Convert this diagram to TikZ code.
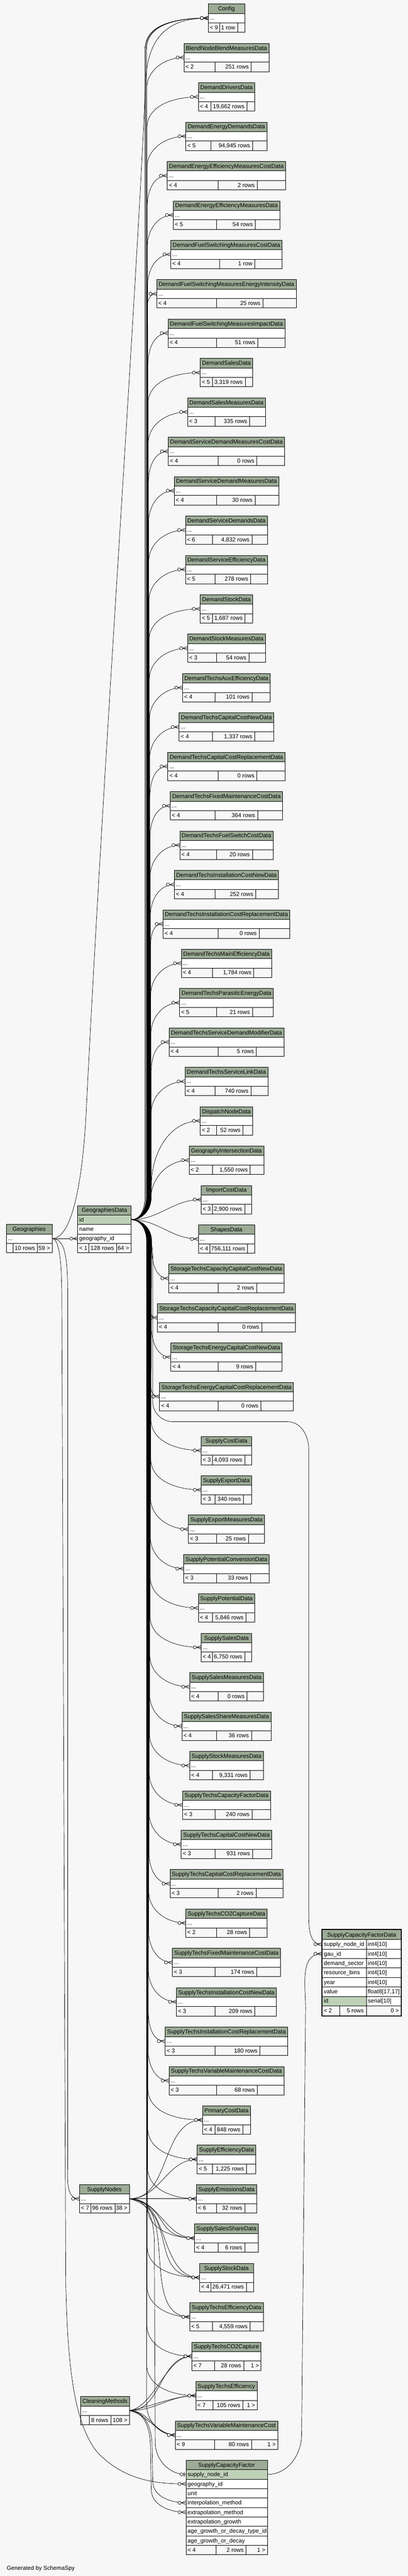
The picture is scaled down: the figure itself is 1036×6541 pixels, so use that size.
\documentclass[tikz,border=0pt]{standalone}
\usepackage{fontspec}
\setmainfont{Liberation Sans}
\usepackage{xcolor}
\definecolor{HeadCol}{RGB}{155,171,150}
\definecolor{KeyCol}{RGB}{190,209,184}
\definecolor{FootCol}{RGB}{247,247,247}
\definecolor{BackCol}{RGB}{247,247,247}
\usepackage{tikz}
\usetikzlibrary{calc}
\newcommand{\TabFont}{\fontsize{14.7}{17}\selectfont}
\tikzstyle{Edge}=[draw=black,line width=0.9pt]
\tikzstyle{TabLine}=[draw=black,line width=0.8pt]
\tikzstyle{TabText}=[inner sep=0pt,font=\TabFont]
\tikzset{crowfoot/.pic={\draw[Edge] (-12,0) -- (0,4.5) (-12,0) -- (0,-4.5);
    \draw[Edge,fill=BackCol] (-16,0) circle (4pt);},
  zeroone/.pic={\draw[Edge] (-4,5) -- (-4,-5);
    \draw[Edge,fill=BackCol] (-11,0) circle (4pt);}}
\newlength{\TabWa}\newlength{\TabWb}\newlength{\TabWc}
\newlength{\TabW}\newlength{\TabH}\newlength{\TabE}\newlength{\TabTmp}
\newcommand{\TabMeasure}[2]{%
  \pgfinterruptpicture\settowidth{\TabTmp}{\TabFont #2}\global#1=\TabTmp\endpgfinterruptpicture}
\newcommand{\DataTable}[6]{%
  \TabMeasure{\TabH}{#1}\addtolength{\TabH}{10pt}%
  \TabMeasure{\TabWa}{#4}\addtolength{\TabWa}{8pt}%
  \ifdim\TabWa<18pt \setlength{\TabWa}{18pt}\fi
  \TabMeasure{\TabWb}{#5}\addtolength{\TabWb}{10pt}%
  \TabMeasure{\TabWc}{#6}\addtolength{\TabWc}{8pt}%
  \ifdim\TabWc<18pt \setlength{\TabWc}{18pt}\fi
  \setlength{\TabW}{\TabWa}\addtolength{\TabW}{\TabWb}\addtolength{\TabW}{\TabWc}%
  \setlength{\TabE}{0pt}%
  \ifdim\TabH>\TabW \setlength{\TabE}{\TabH}\advance\TabE by -\TabW \setlength{\TabW}{\TabH}\fi
  \addtolength{\TabWa}{.5\TabE}\addtolength{\TabWb}{.23\TabE}%
  \pgfmathsetmacro{\TabXl}{#2-.5*\TabW}%
  \pgfmathsetmacro{\TabXr}{#2+.5*\TabW}%
  \pgfmathsetmacro{\TabXa}{\TabXl+\TabWa}%
  \pgfmathsetmacro{\TabXb}{\TabXa+\TabWb}%
  \fill[HeadCol] (\TabXl,-#3) rectangle (\TabXr,-#3-24);
  \fill[white] (\TabXl,-#3-24) rectangle (\TabXr,-#3-48);
  \fill[FootCol] (\TabXl,-#3-48) rectangle (\TabXr,-#3-72);
  \draw[TabLine] (\TabXl,-#3) rectangle (\TabXr,-#3-72)
    (\TabXl,-#3-24) -- (\TabXr,-#3-24) (\TabXl,-#3-48) -- (\TabXr,-#3-48)
    (\TabXa,-#3-48) -- (\TabXa,-#3-72) (\TabXb,-#3-48) -- (\TabXb,-#3-72);
  \node[TabText,anchor=base] (#1-h) at (#2,-#3-17) {#1};
  \node[TabText,anchor=base west] (#1-d) at (\TabXl+4,-#3-41) {...};
  \node[TabText,anchor=base west] (#1-p) at (\TabXl+4,-#3-65) {#4};
  \node[TabText,anchor=base east] (#1-r) at (\TabXb-6,-#3-65) {#5};
  \node[TabText,anchor=base east] (#1-c) at (\TabXr-5,-#3-65) {#6};
  \coordinate (#1) at (\TabXl,-#3-36);
  \coordinate (#1-e) at (\TabXr,-#3-36);
}
\newcommand{\UpEdge}[2]{%
  \draw[Edge] let \p1=(#1) in (GeographiesData-id) to[out=0,in=-90] (#2,-3040)
    -- (#2pt,\y1-80pt) to[out=90,in=180] (#1);
  \pic at (#1) {crowfoot};}
\newcommand{\DownEdge}[2]{%
  \draw[Edge] let \p1=(#1) in (GeographiesData-id) to[out=0,in=90] (#2,-3150)
    -- (#2pt,\y1+80pt) to[out=-90,in=180] (#1);
  \pic at (#1) {crowfoot};}

\begin{document}
\begin{tikzpicture}[x=1pt,y=1pt]
        \useasboundingbox (0,0) rectangle (1036,-6541);
        \fill[BackCol] (0,0) rectangle (1036,-6541);
        \DataTable{Config}{575}{10}{< 9}{1 row}{}
        \DataTable{BlendNodeBlendMeasuresData}{575}{110}{< 2}{251 rows}{}
        \DataTable{DemandDriversData}{575}{210}{< 4}{19,662 rows}{}
        \DataTable{DemandEnergyDemandsData}{575}{310}{< 5}{94,945 rows}{}
        \DataTable{DemandEnergyEfficiencyMeasuresCostData}{575}{410}{< 4}{2 rows}{}
        \DataTable{DemandEnergyEfficiencyMeasuresData}{575}{510}{< 5}{54 rows}{}
        \DataTable{DemandFuelSwitchingMeasuresCostData}{575}{610}{< 4}{1 row}{}
        \DataTable{DemandFuelSwitchingMeasuresEnergyIntensityData}{575}{710}{< 4}{25 rows}{}
        \DataTable{DemandFuelSwitchingMeasuresImpactData}{575}{810}{< 4}{51 rows}{}
        \DataTable{DemandSalesData}{575}{910}{< 5}{3,319 rows}{}
        \DataTable{DemandSalesMeasuresData}{575}{1010}{< 3}{335 rows}{}
        \DataTable{DemandServiceDemandMeasuresCostData}{575}{1110}{< 4}{0 rows}{}
        \DataTable{DemandServiceDemandMeasuresData}{575}{1210}{< 4}{30 rows}{}
        \DataTable{DemandServiceDemandsData}{575}{1310}{< 6}{4,832 rows}{}
        \DataTable{DemandServiceEfficiencyData}{575}{1410}{< 5}{278 rows}{}
        \DataTable{DemandStockData}{575}{1510}{< 5}{1,687 rows}{}
        \DataTable{DemandStockMeasuresData}{575}{1610}{< 3}{54 rows}{}
        \DataTable{DemandTechsAuxEfficiencyData}{575}{1710}{< 4}{101 rows}{}
        \DataTable{DemandTechsCapitalCostNewData}{575}{1810}{< 4}{1,337 rows}{}
        \DataTable{DemandTechsCapitalCostReplacementData}{575}{1910}{< 4}{0 rows}{}
        \DataTable{DemandTechsFixedMaintenanceCostData}{575}{2010}{< 4}{364 rows}{}
        \DataTable{DemandTechsFuelSwitchCostData}{575}{2110}{< 4}{20 rows}{}
        \DataTable{DemandTechsInstallationCostNewData}{575}{2210}{< 4}{252 rows}{}
        \DataTable{DemandTechsInstallationCostReplacementData}{575}{2310}{< 4}{0 rows}{}
        \DataTable{DemandTechsMainEfficiencyData}{575}{2410}{< 4}{1,784 rows}{}
        \DataTable{DemandTechsParasiticEnergyData}{575}{2510}{< 5}{21 rows}{}
        \DataTable{DemandTechsServiceDemandModifierData}{575}{2610}{< 4}{5 rows}{}
        \DataTable{DemandTechsServiceLinkData}{575}{2710}{< 4}{740 rows}{}
        \DataTable{DispatchNodeData}{575}{2810}{< 2}{52 rows}{}
        \DataTable{GeographyIntersectionData}{575}{2910}{< 2}{1,550 rows}{}
        \DataTable{ImportCostData}{575}{3010}{< 3}{2,900 rows}{}
        \DataTable{ShapesData}{575}{3110}{< 4}{756,111 rows}{}
        \DataTable{StorageTechsCapacityCapitalCostNewData}{575}{3210}{< 4}{2 rows}{}
        \DataTable{StorageTechsCapacityCapitalCostReplacementData}{575}{3310}{< 4}{0 rows}{}
        \DataTable{StorageTechsEnergyCapitalCostNewData}{575}{3410}{< 4}{9 rows}{}
        \DataTable{StorageTechsEnergyCapitalCostReplacementData}{575}{3510}{< 4}{0 rows}{}
        \DataTable{SupplyCostData}{575}{3647}{< 3}{4,093 rows}{}
        \DataTable{SupplyExportData}{575}{3747}{< 3}{340 rows}{}
        \DataTable{SupplyExportMeasuresData}{575}{3847}{< 3}{25 rows}{}
        \DataTable{SupplyPotentialConversionData}{575}{3947}{< 3}{33 rows}{}
        \DataTable{SupplyPotentialData}{575}{4047}{< 4}{5,846 rows}{}
        \DataTable{SupplySalesData}{575}{4147}{< 4}{6,750 rows}{}
        \DataTable{SupplySalesMeasuresData}{575}{4247}{< 4}{0 rows}{}
        \DataTable{SupplySalesShareMeasuresData}{575}{4347}{< 4}{36 rows}{}
        \DataTable{SupplyStockMeasuresData}{575}{4447}{< 4}{9,331 rows}{}
        \DataTable{SupplyTechsCapacityFactorData}{575}{4547}{< 3}{240 rows}{}
        \DataTable{SupplyTechsCapitalCostNewData}{575}{4647}{< 3}{931 rows}{}
        \DataTable{SupplyTechsCapitalCostReplacementData}{575}{4747}{< 3}{2 rows}{}
        \DataTable{SupplyTechsCO2CaptureData}{575}{4847}{< 2}{28 rows}{}
        \DataTable{SupplyTechsFixedMaintenanceCostData}{575}{4947}{< 3}{174 rows}{}
        \DataTable{SupplyTechsInstallationCostNewData}{575}{5047}{< 3}{209 rows}{}
        \DataTable{SupplyTechsInstallationCostReplacementData}{575}{5147}{< 3}{180 rows}{}
        \DataTable{SupplyTechsVariableMaintenanceCostData}{575}{5247}{< 3}{68 rows}{}
        \DataTable{PrimaryCostData}{575}{5347}{< 4}{848 rows}{}
        \DataTable{SupplyEfficiencyData}{575}{5447}{< 5}{1,225 rows}{}
        \DataTable{SupplyEmissionsData}{575}{5547}{< 6}{32 rows}{}
        \DataTable{SupplySalesShareData}{575}{5647}{< 4}{6 rows}{}
        \DataTable{SupplyStockData}{575}{5747}{< 4}{26,471 rows}{}
        \DataTable{SupplyTechsEfficiencyData}{575}{5847}{< 5}{4,559 rows}{}
        \DataTable{SupplyTechsCO2Capture}{575}{5947}{< 7}{28 rows}{1 >}
        \DataTable{SupplyTechsEfficiency}{575}{6047}{< 7}{105 rows}{1 >}
        \DataTable{SupplyTechsVariableMaintenanceCost}{575}{6147}{< 9}{80 rows}{1 >}
        \DataTable{Geographies}{74}{3109}{}{10 rows}{59 >}
        \DataTable{SupplyNodes}{265}{5547}{< 7}{96 rows}{38 >}
        \DataTable{CleaningMethods}{266.5}{6085}{}{8 rows}{108 >}
        \fill[HeadCol] (197,-3061) rectangle (333,-3085);
        \fill[KeyCol] (197,-3085) rectangle (333,-3109);
        \fill[white] (197,-3109) rectangle (333,-3157);
        \fill[FootCol] (197,-3157) rectangle (333,-3181);
        \draw[TabLine] (197,-3061) rectangle (333,-3181) (197,-3085) -- (333,-3085)
          (197,-3109) -- (333,-3109) (197,-3133) -- (333,-3133) (197,-3157) -- (333,-3157)
          (226,-3157) -- (226,-3181) (296,-3157) -- (296,-3181);
        \node[TabText,anchor=base] (GeographiesData-h) at (265,-3078) {GeographiesData};
        \node[TabText,anchor=base west] (GeographiesData-1) at (201,-3102) {id};
        \node[TabText,anchor=base west] (GeographiesData-2) at (201,-3126) {name};
        \node[TabText,anchor=base west] (GeographiesData-3) at (201,-3150) {geography\_id};
        \node[TabText,anchor=base west] (GeographiesData-p) at (201,-3174) {< 1};
        \node[TabText,anchor=base east] (GeographiesData-r) at (290,-3174) {128 rows};
        \node[TabText,anchor=base east] (GeographiesData-c) at (328,-3174) {64 >};
        \coordinate (GeographiesData-id) at (333,-3097);
        \coordinate (GeographiesData-geo) at (197,-3145);
        \fill[HeadCol] (818,-4899) rectangle (1019,-4925);
        \fill[white] (818,-4925) rectangle (1019,-5093);
        \fill[KeyCol] (818,-5069) rectangle (930,-5093);
        \fill[FootCol] (818,-5093) rectangle (1019,-5119);
        \draw[TabLine] (818,-4925) -- (1019,-4925) (818,-4949) -- (1019,-4949)
          (818,-4973) -- (1019,-4973) (818,-4997) -- (1019,-4997) (818,-5021) -- (1019,-5021)
          (818,-5045) -- (1019,-5045) (818,-5069) -- (1019,-5069) (818,-5093) -- (1019,-5093)
          (930,-4925) -- (930,-5119) (862,-5093) -- (862,-5119);
        \draw[TabLine,line width=3pt] (818,-4899) rectangle (1019,-5119);
        \node[TabText,anchor=base] (SupplyCapacityFactorData-h) at (918.5,-4918) {SupplyCapacityFactorData};
        \node[TabText,anchor=base west] (SupplyCapacityFactorData-1) at (822,-4942) {supply\_node\_id};
        \node[TabText,anchor=base west] (SupplyCapacityFactorData-2) at (822,-4966) {gau\_id};
        \node[TabText,anchor=base west] (SupplyCapacityFactorData-3) at (822,-4990) {demand\_sector};
        \node[TabText,anchor=base west] (SupplyCapacityFactorData-4) at (822,-5014) {resource\_bins};
        \node[TabText,anchor=base west] (SupplyCapacityFactorData-5) at (822,-5038) {year};
        \node[TabText,anchor=base west] (SupplyCapacityFactorData-6) at (822,-5062) {value};
        \node[TabText,anchor=base west] (SupplyCapacityFactorData-7) at (822,-5086) {id};
        \node[TabText,anchor=base west] (SupplyCapacityFactorData-t1) at (934,-4942) {int4[10]};
        \node[TabText,anchor=base west] (SupplyCapacityFactorData-t2) at (934,-4966) {int4[10]};
        \node[TabText,anchor=base west] (SupplyCapacityFactorData-t3) at (934,-4990) {int4[10]};
        \node[TabText,anchor=base west] (SupplyCapacityFactorData-t4) at (934,-5014) {int4[10]};
        \node[TabText,anchor=base west] (SupplyCapacityFactorData-t5) at (934,-5038) {int4[10]};
        \node[TabText,anchor=base west] (SupplyCapacityFactorData-t6) at (934,-5062) {float8[17,17]};
        \node[TabText,anchor=base west] (SupplyCapacityFactorData-t7) at (934,-5086) {serial[10]};
        \node[TabText,anchor=base west] (SupplyCapacityFactorData-p) at (822,-5110) {< 2};
        \node[TabText,anchor=base east] (SupplyCapacityFactorData-r) at (924,-5110) {5 rows};
        \node[TabText,anchor=base east] (SupplyCapacityFactorData-c) at (1013,-5110) {0 >};
        \coordinate (SupplyCapacityFactorData-sn) at (817,-4937);
        \coordinate (SupplyCapacityFactorData-gau) at (817,-4961);
        \fill[HeadCol] (472,-6247) rectangle (679,-6271);
        \fill[KeyCol] (472,-6271) rectangle (679,-6295);
        \fill[white] (472,-6295) rectangle (679,-6463);
        \fill[FootCol] (472,-6463) rectangle (679,-6487);
        \draw[TabLine] (472,-6247) rectangle (679,-6487) (472,-6271) -- (679,-6271)
          (472,-6295) -- (679,-6295) (472,-6319) -- (679,-6319) (472,-6343) -- (679,-6343)
          (472,-6367) -- (679,-6367) (472,-6391) -- (679,-6391) (472,-6415) -- (679,-6415)
          (472,-6439) -- (679,-6439) (472,-6463) -- (679,-6463)
          (548,-6463) -- (548,-6487) (625,-6463) -- (625,-6487);
        \node[TabText,anchor=base] (SupplyCapacityFactor-h) at (575.5,-6264) {SupplyCapacityFactor};
        \node[TabText,anchor=base west] (SupplyCapacityFactor-1) at (476,-6288) {supply\_node\_id};
        \node[TabText,anchor=base west] (SupplyCapacityFactor-2) at (476,-6312) {geography\_id};
        \node[TabText,anchor=base west] (SupplyCapacityFactor-3) at (476,-6336) {unit};
        \node[TabText,anchor=base west] (SupplyCapacityFactor-4) at (476,-6360) {interpolation\_method};
        \node[TabText,anchor=base west] (SupplyCapacityFactor-5) at (476,-6384) {extrapolation\_method};
        \node[TabText,anchor=base west] (SupplyCapacityFactor-6) at (476,-6408) {extrapolation\_growth};
        \node[TabText,anchor=base west] (SupplyCapacityFactor-7) at (476,-6432) {age\_growth\_or\_decay\_type\_id};
        \node[TabText,anchor=base west] (SupplyCapacityFactor-8) at (476,-6456) {age\_growth\_or\_decay};
        \node[TabText,anchor=base west] (SupplyCapacityFactor-p) at (476,-6480) {< 4};
        \node[TabText,anchor=base east] (SupplyCapacityFactor-r) at (619,-6480) {2 rows};
        \node[TabText,anchor=base east] (SupplyCapacityFactor-c) at (674,-6480) {1 >};
        \coordinate (SupplyCapacityFactor-sn) at (472,-6283);
        \coordinate (SupplyCapacityFactor-sne) at (679,-6283);
        \coordinate (SupplyCapacityFactor-geo) at (472,-6307);
        \coordinate (SupplyCapacityFactor-ip) at (472,-6355);
        \coordinate (SupplyCapacityFactor-ep) at (472,-6379);
        \node[TabText,anchor=base west] (credit) at (17,-6526) {Generated by SchemaSpy};
        \UpEdge{Config}{368}
        \UpEdge{Config}{370}
        \UpEdge{Config}{372}
        \UpEdge{BlendNodeBlendMeasuresData}{372.4}
        \UpEdge{DemandDriversData}{372.9}
        \UpEdge{DemandEnergyDemandsData}{373.3}
        \UpEdge{DemandEnergyEfficiencyMeasuresCostData}{373.8}
        \UpEdge{DemandEnergyEfficiencyMeasuresData}{374.2}
        \UpEdge{DemandFuelSwitchingMeasuresCostData}{374.7}
        \UpEdge{DemandFuelSwitchingMeasuresEnergyIntensityData}{375.1}
        \UpEdge{DemandFuelSwitchingMeasuresImpactData}{375.6}
        \UpEdge{DemandSalesData}{376}
        \UpEdge{DemandSalesMeasuresData}{376.5}
        \UpEdge{DemandServiceDemandMeasuresCostData}{376.9}
        \UpEdge{DemandServiceDemandMeasuresData}{377.4}
        \UpEdge{DemandServiceDemandsData}{377.8}
        \UpEdge{DemandServiceEfficiencyData}{378.3}
        \UpEdge{DemandStockData}{378.7}
        \UpEdge{DemandStockMeasuresData}{379.2}
        \UpEdge{DemandTechsAuxEfficiencyData}{379.6}
        \UpEdge{DemandTechsCapitalCostNewData}{380.1}
        \UpEdge{DemandTechsCapitalCostReplacementData}{380.5}
        \UpEdge{DemandTechsFixedMaintenanceCostData}{381}
        \UpEdge{DemandTechsFuelSwitchCostData}{381.4}
        \UpEdge{DemandTechsInstallationCostNewData}{381.9}
        \UpEdge{DemandTechsInstallationCostReplacementData}{382.3}
        \UpEdge{DemandTechsMainEfficiencyData}{382.8}
        \UpEdge{DemandTechsParasiticEnergyData}{383.2}
        \UpEdge{DemandTechsServiceDemandModifierData}{383.7}
        \UpEdge{DemandTechsServiceLinkData}{384.1}
        \draw[Edge] (GeographiesData-id) to[out=0,in=-90] (384.5,-3010) to[out=90,in=180] (DispatchNodeData);
        \pic at (DispatchNodeData) {crowfoot};
        \draw[Edge] (GeographiesData-id) to[out=0,in=-90] (383,-3045) to[out=90,in=180] (GeographyIntersectionData);
        \pic at (GeographyIntersectionData) {crowfoot};
        \draw[Edge] (GeographiesData-id) to[out=0,in=180] (ImportCostData);
        \pic at (ImportCostData) {crowfoot};
        \draw[Edge] (GeographiesData-id) to[out=0,in=180] (ShapesData);
        \pic at (ShapesData) {crowfoot};
        \DownEdge{StorageTechsCapacityCapitalCostNewData}{385}
        \DownEdge{StorageTechsCapacityCapitalCostReplacementData}{384.6}
        \DownEdge{StorageTechsEnergyCapitalCostNewData}{384.1}
        \DownEdge{StorageTechsEnergyCapitalCostReplacementData}{383.7}
        \DownEdge{SupplyCostData}{383.2}
        \DownEdge{SupplyExportData}{382.8}
        \DownEdge{SupplyExportMeasuresData}{382.3}
        \DownEdge{SupplyPotentialConversionData}{381.9}
        \DownEdge{SupplyPotentialData}{381.4}
        \DownEdge{SupplySalesData}{381}
        \DownEdge{SupplySalesMeasuresData}{380.5}
        \DownEdge{SupplySalesShareMeasuresData}{380.1}
        \DownEdge{SupplyStockMeasuresData}{379.6}
        \DownEdge{SupplyTechsCapacityFactorData}{379.2}
        \DownEdge{SupplyTechsCapitalCostNewData}{378.7}
        \DownEdge{SupplyTechsCapitalCostReplacementData}{378.3}
        \DownEdge{SupplyTechsCO2CaptureData}{377.8}
        \DownEdge{SupplyTechsFixedMaintenanceCostData}{377.4}
        \DownEdge{SupplyTechsInstallationCostNewData}{376.9}
        \DownEdge{SupplyTechsInstallationCostReplacementData}{376.5}
        \DownEdge{SupplyTechsVariableMaintenanceCostData}{376}
        \DownEdge{PrimaryCostData}{375.6}
        \DownEdge{SupplyEfficiencyData}{375.1}
        \DownEdge{SupplyEmissionsData}{374.7}
        \DownEdge{SupplySalesShareData}{374.2}
        \DownEdge{SupplyStockData}{373.8}
        \DownEdge{SupplyTechsEfficiencyData}{373.3}
        \DownEdge{SupplyTechsCO2Capture}{372.9}
        \DownEdge{SupplyTechsEfficiency}{372.4}
        \DownEdge{SupplyTechsVariableMaintenanceCost}{372}
        \draw[Edge] (GeographiesData-id) to[out=0,in=90] (388,-3200) -- (388,-3560)
          to[out=-90,in=180] (440,-3610) -- (730,-3610) to[out=0,in=90] (784,-3680)
          -- (784,-4860) to[out=-90,in=180] (SupplyCapacityFactorData-sn);
        \pic at (SupplyCapacityFactorData-sn) {crowfoot};
        \draw[Edge] (SupplyCapacityFactor-sne) to[out=0,in=-90] (766,-6180) -- (776,-5100)
          to[out=90,in=180] (SupplyCapacityFactorData-gau);
        \pic at (SupplyCapacityFactorData-gau) {crowfoot};
        \draw[Edge] (Geographies-e) -- (GeographiesData-geo);
        \pic at (GeographiesData-geo) {crowfoot};
        \draw[Edge] (Geographies-e) .. controls (185,-3145) and (212,-2990) .. (220,-2800)
          .. controls (265,-1900) and (350,-700) .. (370,-200)
          .. controls (378,-80) and (440,-46) .. (Config);
        \pic at (Config) {crowfoot};
        \draw[Edge] (Geographies-e) .. controls (165,-3145) and (172,-3190) .. (172,-3290)
          -- (172,-5500) to[out=-90,in=180] (SupplyNodes);
        \pic at (SupplyNodes) {crowfoot};
        \draw[Edge] (Geographies-e) .. controls (150,-3145) and (157,-3200) .. (157,-3300)
          -- (167,-5800) .. controls (172,-6020) and (190,-6160) .. (250,-6230)
          .. controls (320,-6300) and (400,-6307) .. (SupplyCapacityFactor-geo);
        \pic at (SupplyCapacityFactor-geo) {crowfoot};
        \draw[Edge] (SupplyNodes-e) to[out=0,in=180] (PrimaryCostData);
        \pic at (PrimaryCostData) {crowfoot};
        \draw[Edge] (SupplyNodes-e) to[out=0,in=180] (SupplyEfficiencyData);
        \pic at (SupplyEfficiencyData) {crowfoot};
        \draw[Edge] (SupplyNodes-e) -- (SupplyEmissionsData);
        \pic at (SupplyEmissionsData) {crowfoot};
        \draw[Edge] (SupplyNodes-e) to[out=0,in=180] (SupplySalesShareData);
        \draw[Edge] (SupplyNodes-e) to[out=-10,in=180,looseness=1.4] (SupplySalesShareData);
        \pic at (SupplySalesShareData) {crowfoot};
        \draw[Edge] (SupplyNodes-e) to[out=0,in=180] (SupplyStockData);
        \draw[Edge] (SupplyNodes-e) to[out=-15,in=180,looseness=1.3] (SupplyStockData);
        \pic at (SupplyStockData) {crowfoot};
        \draw[Edge] (SupplyNodes-e) to[out=0,in=180] (SupplyTechsEfficiencyData);
        \pic at (SupplyTechsEfficiencyData) {crowfoot};
        \draw[Edge] (SupplyNodes-e) to[out=0,in=90] (392,-5700) -- (394,-6200)
          to[out=-90,in=180] (SupplyCapacityFactor-sn);
        \pic at (SupplyCapacityFactor-sn) {zeroone};
        \draw[Edge] (CleaningMethods-e) to[out=0,in=180] (SupplyTechsCO2Capture);
        \draw[Edge] (CleaningMethods-e) to[out=10,in=180,looseness=0.8] (SupplyTechsCO2Capture);
        \pic at (SupplyTechsCO2Capture) {crowfoot};
        \draw[Edge] (CleaningMethods-e) to[out=0,in=180] (SupplyTechsEfficiency);
        \draw[Edge] (CleaningMethods-e) to[out=10,in=180,looseness=0.8] (SupplyTechsEfficiency);
        \pic at (SupplyTechsEfficiency) {crowfoot};
        \draw[Edge] (CleaningMethods-e) to[out=0,in=180] (SupplyTechsVariableMaintenanceCost);
        \draw[Edge] (CleaningMethods-e) to[out=-10,in=180,looseness=0.8] (SupplyTechsVariableMaintenanceCost);
        \pic at (SupplyTechsVariableMaintenanceCost) {crowfoot};
        \draw[Edge] (CleaningMethods-e) to[out=0,in=90] (386,-6210) -- (388,-6300)
          to[out=-90,in=180] (SupplyCapacityFactor-ip);
        \pic at (SupplyCapacityFactor-ip) {crowfoot};
        \draw[Edge] (CleaningMethods-e) to[out=-5,in=90] (382,-6215) -- (384,-6320)
          to[out=-90,in=180] (SupplyCapacityFactor-ep);
        \pic at (SupplyCapacityFactor-ep) {crowfoot};
\end{tikzpicture}
\end{document}
